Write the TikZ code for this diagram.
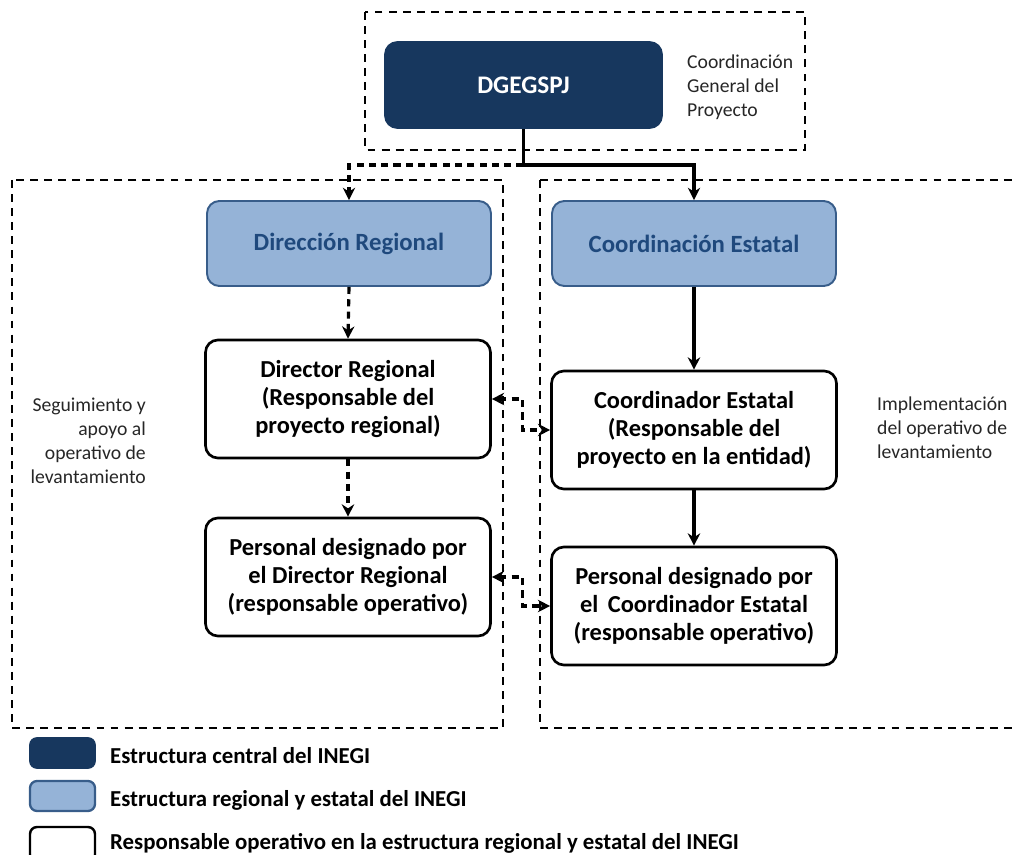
\documentclass[tikz,border=0pt]{standalone}
\usepackage{fontspec}
\setmainfont{Carlito}
\usepackage{xcolor}
\usetikzlibrary{arrows.meta}

\definecolor{inegiosc}{HTML}{17375E}
\definecolor{inegicla}{HTML}{95B3D7}
\definecolor{inegibor}{HTML}{385D8A}
\definecolor{inegitxt}{HTML}{1F497D}

\tikzset{
  central/.style={draw=inegiosc, fill=inegiosc, rounded corners=7pt, line width=1pt,
    text=white, font=\fontsize{14.4}{17}\selectfont\bfseries,
    minimum width=5.54cm, minimum height=1.72cm},
  regional/.style={draw=inegibor, fill=inegicla, rounded corners=7pt, line width=1.1pt,
    text=inegitxt, font=\fontsize{14.1}{17}\selectfont\bfseries,
    minimum width=5.68cm, minimum height=1.7cm},
  operativo/.style={draw, fill=white, rounded corners=7pt, line width=1.5pt, align=center,
    font=\fontsize{13.9}{15.9}\selectfont\bfseries,
    minimum width=5.7cm, minimum height=2.36cm},
  zona/.style={line width=1pt, dash pattern=on 4.5pt off 3.5pt},
  flecha/.style={line width=1.8pt, -{Stealth[length=7pt,width=7pt]}},
  rayada/.style={dash pattern=on 4pt off 3pt},
  lado/.style={font=\fontsize{11.2}{13.6}\selectfont, text=black!85},
  leyenda/.style={anchor=west, font=\fontsize{13}{14}\selectfont\bfseries}
}

\begin{document}
\begin{tikzpicture}[x=0.02cm, y=-0.02cm]
\useasboundingbox (0,0) rectangle (1019,855);

% zonas punteadas
\draw[zona] (365,12) rectangle (805,150);
\draw[zona] (12,180) rectangle (503,728);
\draw[zona] (540,180) -- (1016,180);
\draw[zona] (540,180) -- (540,728) -- (1016,728);

% coordinacion central
\node[central] (dge) at (523.5,85) {DGEGSPJ};
\node[lado, anchor=west, align=left] (cgp) at (681,87) {Coordinación\\General del\\Proyecto};

% estructura regional y estatal
\node[regional] (dirreg) at (349,243.5) {Dirección Regional};
\node[regional] (coordest) at (694,243.5) {Coordinación Estatal};

\node[operativo] (director) at (348,399) {Director Regional\\(Responsable del\\proyecto regional)};
\node[operativo] (coordinador) at (694,430) {Coordinador Estatal\\(Responsable del\\proyecto en la entidad)};
\node[operativo] (persreg) at (348,577) {Personal designado por\\el Director Regional\\(responsable operativo)};
\node[operativo] (persest) at (694,606) {Personal designado por\\el\, Coordinador Estatal\\(responsable operativo)};

\node[lado, anchor=east, align=right] (seg) at (152,441) {Seguimiento y\\apoyo al\\operativo de\\levantamiento};
\node[lado, anchor=west, align=left] (imp) at (871,428) {Implementación\\del operativo de\\levantamiento};

% conectores
\coordinate (bif) at (523.5,165);
\draw[line width=1.8pt] (dge.south) -- (bif);
\draw[flecha] (bif) -| (coordest.north);
\draw[flecha, rayada] (bif) -| (dirreg.north);

\draw[flecha, rayada] (dirreg.south) -- (director.north);
\draw[flecha, rayada] (director.south) -- (persreg.north);
\draw[flecha] (coordest.south) -- (coordinador.north);
\draw[flecha] (coordinador.south) -- (persest.north);

\draw[flecha, rayada, {Stealth[length=7pt,width=7pt]}-{Stealth[length=7pt,width=7pt]}]
  (director.east) -- ++(31,0) |- (coordinador.west);
\draw[flecha, rayada, {Stealth[length=7pt,width=7pt]}-{Stealth[length=7pt,width=7pt]}]
  (persreg.east) -- ++(31,0) |- (persest.west);

% leyenda
\draw[draw=inegiosc, fill=inegiosc, rounded corners=4pt, line width=1pt] (30,738) rectangle (95,768);
\node[leyenda] (ley1) at (104,756) {Estructura central del INEGI};
\draw[draw=inegibor, fill=inegicla, rounded corners=4pt, line width=1.3pt] (30,781) rectangle (95,811);
\node[leyenda] (ley2) at (104,800) {Estructura regional y estatal del INEGI};
\draw[fill=white, rounded corners=4pt, line width=1.4pt] (30,827) rectangle (95,862);
\node[leyenda] (ley3) at (104,843) {Responsable operativo en la estructura regional y estatal del INEGI};
\end{tikzpicture}
\end{document}
